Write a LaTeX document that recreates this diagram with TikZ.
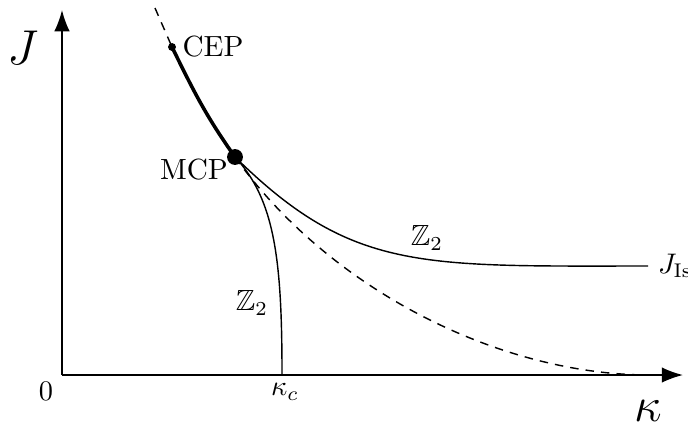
\documentclass[tikz,border=0pt]{standalone}
\usepackage{amssymb}
\usetikzlibrary{arrows.meta}
\begin{document}
\begin{tikzpicture}[x=0.353pt,y=-0.353pt,
  axis/.style={line width=0.6pt,-{Latex[length=7.5pt,width=5.5pt]}},
  thinline/.style={line width=0.5pt},
  thickline/.style={line width=1.25pt},
  dashline/.style={line width=0.5pt,dash pattern=on 3pt off 2.5pt},
  bigdot/.style={circle,fill=black,inner sep=0pt,minimum size=5.6pt},
  smalldot/.style={circle,fill=black,inner sep=0pt,minimum size=2.8pt},
  biglbl/.style={font=\fontsize{18}{20}\selectfont},
  lbl/.style={font=\fontsize{10.3}{12}\selectfont}]
\useasboundingbox (0,0) rectangle (688,428);
% axes
\coordinate (O) at (62,375);
\coordinate (Ytip) at (62,10);
\coordinate (Xtip) at (683,375);
\draw[axis] (O) -- (Ytip);
\draw[axis] (O) -- (Xtip);
% key points
\coordinate (Cp) at (172,47);
\coordinate (Mp) at (235,157);
\coordinate (Top) at (155,8);
\coordinate (Kc) at (282,375);
\coordinate (Is) at (648,266);
\coordinate (Dend) at (650,375);
% curves
\draw[dashline] (Top) -- (Cp);
\draw[thickline] (Cp) .. controls (194,92) and (206,116) .. (Mp);
\draw[thinline] (Mp) .. controls (352,272) and (420,266) .. (Is);
\draw[thinline] (Mp) .. controls (275,200) and (282,260) .. (Kc);
\draw[dashline] (Mp) .. controls (330,290) and (500,375) .. (Dend);
% dots
\node[smalldot] (CEP) at (Cp) {};
\node[bigdot] (MCP) at (Mp) {};
% labels
\node[biglbl] (Jlab) at (23,48) {$J$};
\node[biglbl] (klab) at (648,411) {$\kappa$};
\node[lbl] (zero) at (46,391) {$0$};
\node[lbl] (kc) at (285,392) {$\kappa_c$};
\node[lbl] (CEPlab) at (213,47) {CEP};
\node[lbl] (MCPlab) at (194,170) {MCP};
\node[lbl] (Z2a) at (427,238) {$\mathbb{Z}_2$};
\node[lbl] (Z2b) at (252,303) {$\mathbb{Z}_2$};
\node[lbl,anchor=west] (JIs) at (Is) {$J_{\mathrm{Is}}$};
\end{tikzpicture}
\end{document}
